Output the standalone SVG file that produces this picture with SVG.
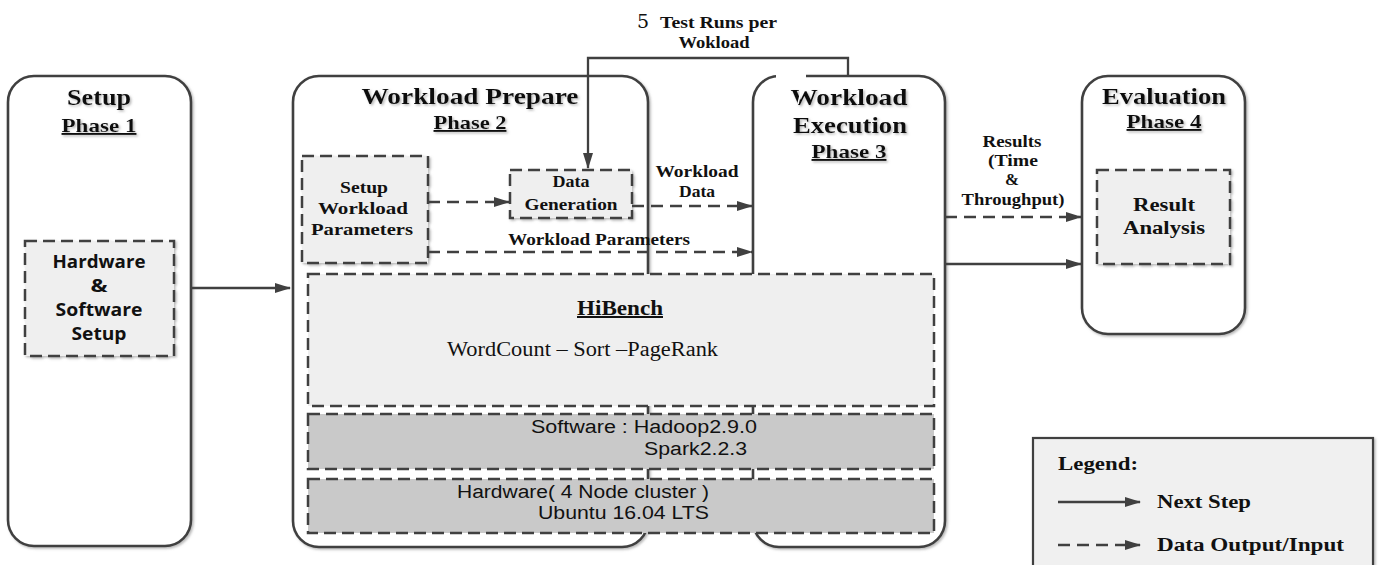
<svg xmlns="http://www.w3.org/2000/svg" width="1384" height="565" viewBox="0 0 1384 565">
<defs>
<style>
.phase{fill:#fff;stroke:#404040;stroke-width:2.6}
.dbox{fill:#efefef;stroke:#404040;stroke-width:2.5;stroke-dasharray:12 6}
.gbox{fill:#c9c9c9;stroke:#404040;stroke-width:2.5;stroke-dasharray:12 6}
.title{font-family:"Liberation Serif",serif;font-weight:bold;font-size:23px;fill:#111;text-anchor:middle}
.ph{font-family:"Liberation Serif",serif;font-weight:bold;font-size:19px;fill:#111;text-anchor:middle;text-decoration:underline}
.bs{font-family:"Liberation Serif",serif;font-weight:bold;font-size:16px;fill:#111;text-anchor:middle}
.sans{font-family:"Open Sans","Liberation Sans",sans-serif;font-weight:bold;font-size:17px;fill:#111;text-anchor:middle}
.ar{font-family:"Liberation Sans",Arial,sans-serif;font-size:18px;fill:#111}
.lg{font-family:"Liberation Serif",serif;font-weight:bold;font-size:18px;fill:#111}
.solid{fill:none;stroke:#404040;stroke-width:2.3}
.dash{fill:none;stroke:#404040;stroke-width:2.5;stroke-dasharray:12 7}
</style>
<marker id="ahb" markerWidth="16" markerHeight="10" refX="15" refY="5" orient="auto" markerUnits="userSpaceOnUse" viewBox="0 0 16 10">
<path d="M0,0 L16,5 L0,10 z" fill="#404040"/>
</marker>
<filter id="sh" x="-10%" y="-10%" width="130%" height="130%">
<feDropShadow dx="1.5" dy="1.5" stdDeviation="1" flood-color="#888" flood-opacity="0.6"/>
</filter>
</defs>

<g id="phase1">
<rect class="phase" x="8" y="76" width="183" height="470" rx="26" filter="url(#sh)"/>
<text class="title" x="99" y="105" textLength="64" lengthAdjust="spacingAndGlyphs" filter="url(#sh)">Setup</text>
<text class="ph" x="99" y="132" textLength="75" lengthAdjust="spacingAndGlyphs" filter="url(#sh)">Phase 1</text>
</g>

<g id="phase2">
<rect class="phase" x="293" y="76" width="355" height="471" rx="26" filter="url(#sh)"/>
<text class="title" x="470" y="104" textLength="217" lengthAdjust="spacingAndGlyphs" filter="url(#sh)">Workload Prepare</text>
<text class="ph" x="470" y="129" textLength="73" lengthAdjust="spacingAndGlyphs" filter="url(#sh)">Phase 2</text>
</g>

<g id="phase3">
<rect class="phase" x="753" y="76" width="192" height="471" rx="26" filter="url(#sh)"/>
<text class="title" x="849" y="105" textLength="117" lengthAdjust="spacingAndGlyphs" filter="url(#sh)">Workload</text>
<text class="title" x="850" y="133" textLength="114" lengthAdjust="spacingAndGlyphs" filter="url(#sh)">Execution</text>
<text class="ph" x="849" y="158" textLength="75" lengthAdjust="spacingAndGlyphs" filter="url(#sh)">Phase 3</text>
<rect x="776" y="72" width="30" height="10" fill="#fff"/>
<line x1="802" y1="87" x2="798" y2="104" stroke="#fff" stroke-width="1.5"/>
</g>

<g id="phase4">
<rect class="phase" x="1082" y="76" width="163" height="258" rx="26" filter="url(#sh)"/>
<text class="title" x="1164" y="104" textLength="124" lengthAdjust="spacingAndGlyphs" filter="url(#sh)">Evaluation</text>
<text class="ph" x="1164" y="128" textLength="75" lengthAdjust="spacingAndGlyphs" filter="url(#sh)">Phase 4</text>
</g>

<g id="hwsw-setup">
<rect class="dbox" x="25" y="241" width="149" height="115" filter="url(#sh)"/>
<text class="sans" x="99" y="268" textLength="93" lengthAdjust="spacingAndGlyphs">Hardware</text>
<text class="sans" x="99" y="292" textLength="17" lengthAdjust="spacingAndGlyphs">&amp;</text>
<text class="sans" x="99" y="316" textLength="87" lengthAdjust="spacingAndGlyphs">Software</text>
<text class="sans" x="99" y="340" textLength="55" lengthAdjust="spacingAndGlyphs">Setup</text>
</g>

<g id="setup-params">
<rect class="dbox" x="302" y="156" width="126" height="107" filter="url(#sh)"/>
<text class="bs" x="364" y="193" textLength="48" lengthAdjust="spacingAndGlyphs">Setup</text>
<text class="bs" x="363" y="214" textLength="90" lengthAdjust="spacingAndGlyphs">Workload</text>
<text class="bs" x="362" y="235" textLength="102" lengthAdjust="spacingAndGlyphs">Parameters</text>
</g>

<g id="data-gen">
<rect class="dbox" x="510" y="170" width="122" height="48" filter="url(#sh)"/>
<text class="bs" x="571" y="187" textLength="37" lengthAdjust="spacingAndGlyphs">Data</text>
<text class="bs" x="571" y="210" textLength="93" lengthAdjust="spacingAndGlyphs">Generation</text>
</g>

<g id="result-analysis">
<rect class="dbox" x="1097" y="170" width="133" height="94" filter="url(#sh)"/>
<text class="bs" x="1164" y="211" style="font-size:19px" textLength="62" lengthAdjust="spacingAndGlyphs">Result</text>
<text class="bs" x="1164" y="234" style="font-size:19px" textLength="82" lengthAdjust="spacingAndGlyphs">Analysis</text>
</g>

<g id="hibench">
<rect class="dbox" x="308" y="274" width="626" height="132"/>
<text x="620" y="315" textLength="86" lengthAdjust="spacingAndGlyphs" style="font-family:'Liberation Serif',serif;font-weight:bold;font-size:20px;fill:#111;text-anchor:middle;text-decoration:underline">HiBench</text>
<text x="447" y="356" textLength="271" lengthAdjust="spacingAndGlyphs" style="font-family:'Liberation Serif',serif;font-size:20px;fill:#111">WordCount – Sort –PageRank</text>
</g>

<g id="software">
<rect class="gbox" x="308" y="414" width="626" height="55"/>
<text class="ar" x="531" y="433" textLength="226" lengthAdjust="spacingAndGlyphs">Software : Hadoop2.9.0</text>
<text class="ar" x="644" y="455" textLength="103" lengthAdjust="spacingAndGlyphs">Spark2.2.3</text>
</g>

<g id="hardware">
<rect class="gbox" x="308" y="479" width="626" height="54"/>
<text class="ar" x="457" y="498" textLength="252" lengthAdjust="spacingAndGlyphs">Hardware( 4 Node cluster )</text>
<text class="ar" x="538" y="519" textLength="171" lengthAdjust="spacingAndGlyphs">Ubuntu 16.04 LTS</text>
</g>

<g id="connectors">
<line class="solid" x1="191" y1="288" x2="290" y2="288" marker-end="url(#ahb)"/>
<line class="dash" x1="428" y1="202" x2="509" y2="202" marker-end="url(#ahb)"/>
<line class="dash" x1="632" y1="206" x2="752" y2="206" marker-end="url(#ahb)"/>
<line class="dash" x1="428" y1="252" x2="752" y2="252" marker-end="url(#ahb)"/>
<line class="dash" x1="945" y1="217" x2="1081" y2="217" marker-end="url(#ahb)"/>
<line class="solid" x1="945" y1="264" x2="1081" y2="264" marker-end="url(#ahb)"/>
<polyline class="solid" points="848,76 848,58 588,58 588,168" marker-end="url(#ahb)"/>
<text class="bs" x="697" y="177" textLength="83" lengthAdjust="spacingAndGlyphs">Workload</text>
<text class="bs" x="697" y="197" textLength="36" lengthAdjust="spacingAndGlyphs">Data</text>
<text class="bs" x="599" y="245" textLength="182" lengthAdjust="spacingAndGlyphs">Workload Parameters</text>
<text class="bs" x="1012" y="147" textLength="59" lengthAdjust="spacingAndGlyphs">Results</text>
<text class="bs" x="1013" y="166" textLength="50" lengthAdjust="spacingAndGlyphs">(Time</text>
<text class="bs" x="1012" y="185" textLength="14" lengthAdjust="spacingAndGlyphs">&amp;</text>
<text class="bs" x="1013" y="205" textLength="103" lengthAdjust="spacingAndGlyphs">Throughput)</text>
<text x="643" y="28" style="font-family:'DejaVu Serif',serif;font-size:19px;fill:#111;text-anchor:middle">5</text>
<text class="bs" x="660" y="28" style="text-anchor:start" textLength="117" lengthAdjust="spacingAndGlyphs">Test Runs per</text>
<text class="bs" x="714" y="48" textLength="71" lengthAdjust="spacingAndGlyphs">Wokload</text>
</g>

<g id="legend">
<rect x="1033" y="438" width="340" height="140" fill="#f0f0f0" stroke="#404040" stroke-width="2.2" filter="url(#sh)"/>
<text class="lg" x="1058" y="470" textLength="80" lengthAdjust="spacingAndGlyphs">Legend:</text>
<line class="solid" x1="1058" y1="502" x2="1140" y2="502" marker-end="url(#ahb)"/>
<text class="lg" x="1157" y="508" textLength="94" lengthAdjust="spacingAndGlyphs">Next Step</text>
<line class="dash" x1="1058" y1="545" x2="1140" y2="545" marker-end="url(#ahb)"/>
<text class="lg" x="1157" y="551" textLength="187" lengthAdjust="spacingAndGlyphs">Data Output/Input</text>
</g>
</svg>
